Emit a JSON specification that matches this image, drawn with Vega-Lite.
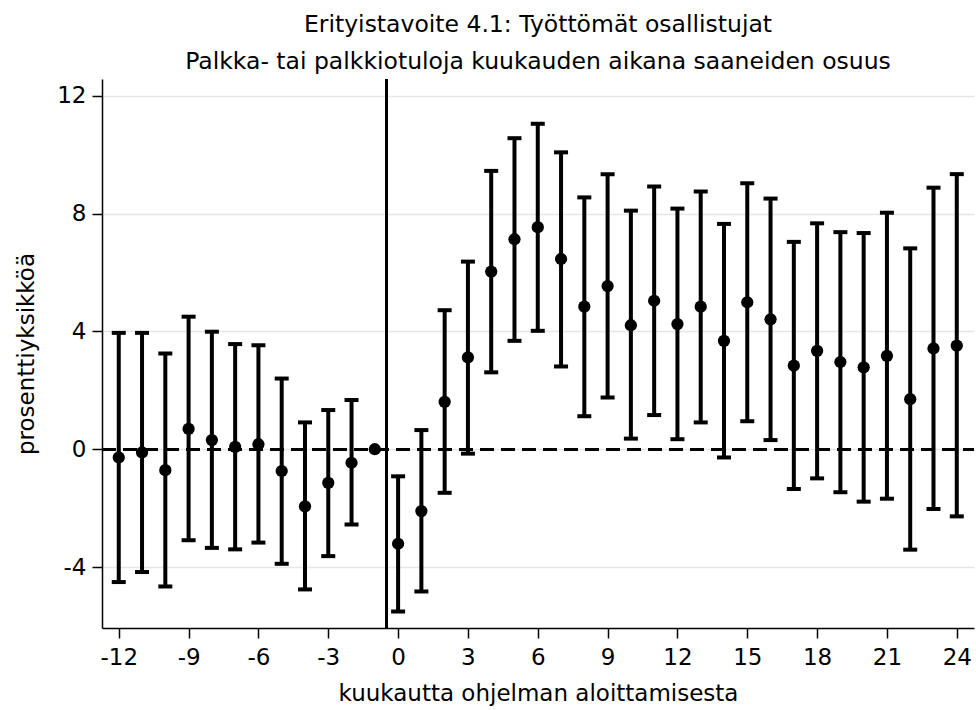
{
  "$schema": "https://vega.github.io/schema/vega-lite/v6.json",
  "width": 872,
  "height": 549,
  "autosize": {"type": "none"},
  "padding": {"left": 102, "top": 79, "right": 2, "bottom": 82},
  "background": "white",
  "config": {
    "view": {"stroke": null},
    "font": "DejaVu Sans",
    "axis": {
      "labelFont": "DejaVu Sans",
      "titleFont": "DejaVu Sans",
      "labelFontSize": 23,
      "titleFontSize": 23,
      "labelColor": "black",
      "titleColor": "black",
      "titleFontWeight": "normal",
      "domainColor": "black",
      "domainWidth": 1.5,
      "tickColor": "black",
      "tickWidth": 1.5,
      "tickSize": 10,
      "gridColor": "#e6e6e6",
      "gridWidth": 1.5
    }
  },
  "title": {
    "text": ["Erityistavoite 4.1: Työttömät osallistujat", "Palkka- tai palkkiotuloja kuukauden aikana saaneiden osuus"],
    "font": "DejaVu Sans",
    "fontSize": 23.5,
    "fontWeight": "normal",
    "color": "black",
    "lineHeight": 36.6,
    "anchor": "middle",
    "frame": "group",
    "baseline": "alphabetic",
    "offset": 11,
    "dy": 25
  },
  "data": {
    "values": [
      {"m": -12, "est": -0.28, "lo": -4.51, "hi": 3.95},
      {"m": -11, "est": -0.11, "lo": -4.17, "hi": 3.95},
      {"m": -10, "est": -0.71, "lo": -4.66, "hi": 3.25},
      {"m": -9, "est": 0.69, "lo": -3.09, "hi": 4.50},
      {"m": -8, "est": 0.31, "lo": -3.35, "hi": 3.99},
      {"m": -7, "est": 0.08, "lo": -3.40, "hi": 3.57},
      {"m": -6, "est": 0.17, "lo": -3.17, "hi": 3.53},
      {"m": -5, "est": -0.74, "lo": -3.89, "hi": 2.40},
      {"m": -4, "est": -1.94, "lo": -4.76, "hi": 0.91},
      {"m": -3, "est": -1.14, "lo": -3.63, "hi": 1.33},
      {"m": -2, "est": -0.46, "lo": -2.56, "hi": 1.67},
      {"m": -1, "est": 0, "lo": null, "hi": null},
      {"m": 0, "est": -3.21, "lo": -5.51, "hi": -0.92},
      {"m": 1, "est": -2.10, "lo": -4.83, "hi": 0.65},
      {"m": 2, "est": 1.61, "lo": -1.48, "hi": 4.72},
      {"m": 3, "est": 3.12, "lo": -0.15, "hi": 6.37},
      {"m": 4, "est": 6.03, "lo": 2.61, "hi": 9.45},
      {"m": 5, "est": 7.13, "lo": 3.68, "hi": 10.56},
      {"m": 6, "est": 7.54, "lo": 4.02, "hi": 11.05},
      {"m": 7, "est": 6.46, "lo": 2.81, "hi": 10.08},
      {"m": 8, "est": 4.84, "lo": 1.12, "hi": 8.55},
      {"m": 9, "est": 5.54, "lo": 1.76, "hi": 9.34},
      {"m": 10, "est": 4.21, "lo": 0.36, "hi": 8.10},
      {"m": 11, "est": 5.04, "lo": 1.16, "hi": 8.92},
      {"m": 12, "est": 4.25, "lo": 0.34, "hi": 8.17},
      {"m": 13, "est": 4.84, "lo": 0.91, "hi": 8.75},
      {"m": 14, "est": 3.68, "lo": -0.28, "hi": 7.65},
      {"m": 15, "est": 4.99, "lo": 0.95, "hi": 9.03},
      {"m": 16, "est": 4.41, "lo": 0.31, "hi": 8.51},
      {"m": 17, "est": 2.84, "lo": -1.35, "hi": 7.04},
      {"m": 18, "est": 3.34, "lo": -0.99, "hi": 7.67},
      {"m": 19, "est": 2.96, "lo": -1.46, "hi": 7.37},
      {"m": 20, "est": 2.78, "lo": -1.78, "hi": 7.34},
      {"m": 21, "est": 3.17, "lo": -1.68, "hi": 8.03},
      {"m": 22, "est": 1.70, "lo": -3.41, "hi": 6.82},
      {"m": 23, "est": 3.42, "lo": -2.03, "hi": 8.88},
      {"m": 24, "est": 3.52, "lo": -2.28, "hi": 9.34}
    ]
  },
  "encoding": {
    "x": {
      "field": "m",
      "type": "quantitative",
      "scale": {"domain": [-12.72, 24.74], "nice": false, "zero": false},
      "axis": {
        "values": [-12, -9, -6, -3, 0, 3, 6, 9, 12, 15, 18, 21, 24],
        "labelExpr": "'' + datum.value",
        "grid": false,
        "title": "kuukautta ohjelman aloittamisesta",
        "labelBaseline": "alphabetic",
        "labelPadding": 26,
        "titleBaseline": "alphabetic",
        "titleY": 72,
        "titleX": 436,
        "titleAlign": "center"
      }
    },
    "y": {
      "type": "quantitative",
      "scale": {"domain": [-6.07, 12.57], "nice": false, "zero": false},
      "axis": {
        "values": [-4, 0, 4, 8, 12],
        "labelExpr": "'' + datum.value",
        "grid": true,
        "title": "prosenttiyksikköä",
        "labelPadding": 6,
        "titleAngle": 270,
        "titleBaseline": "alphabetic",
        "titleAlign": "center",
        "titleX": -68.7,
        "titleY": 274.5
      }
    }
  },
  "layer": [
    {
      "mark": {"type": "rule", "color": "black", "strokeWidth": 2, "strokeDash": [14, 7]},
      "encoding": {"y": {"datum": 0}, "x": {"value": 0}, "x2": {"value": 872}}
    },
    {
      "mark": {"type": "rule", "color": "black", "strokeWidth": 1.8},
      "encoding": {"x": {"datum": -0.5}, "y": {"value": 0}, "y2": {"value": 549}}
    },
    {
      "mark": {"type": "rule", "color": "black", "strokeWidth": 4},
      "encoding": {"y": {"field": "lo"}, "y2": {"field": "hi"}}
    },
    {
      "mark": {"type": "tick", "orient": "horizontal", "color": "black", "size": 14, "thickness": 4, "opacity": 1},
      "encoding": {"y": {"field": "lo"}}
    },
    {
      "mark": {"type": "tick", "orient": "horizontal", "color": "black", "size": 14, "thickness": 4, "opacity": 1},
      "encoding": {"y": {"field": "hi"}}
    },
    {
      "mark": {"type": "point", "shape": "circle", "filled": true, "color": "black", "size": 150, "opacity": 1},
      "encoding": {"y": {"field": "est"}}
    }
  ]
}
